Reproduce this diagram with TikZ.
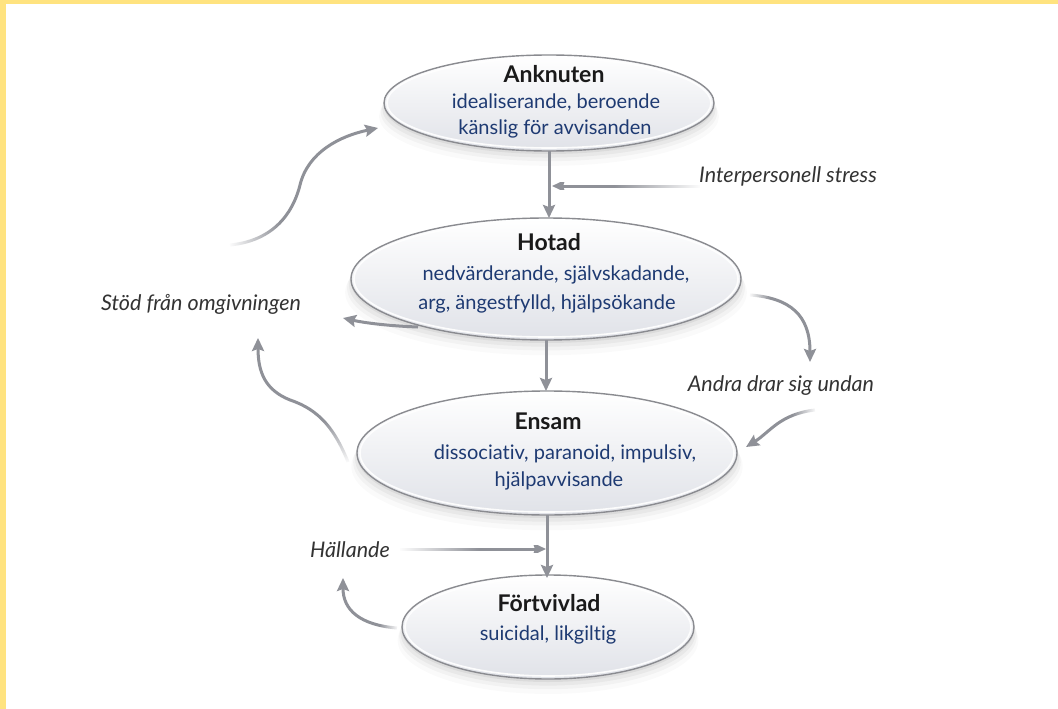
\documentclass[tikz,border=0pt]{standalone}
\usepackage{fontspec}
\setmainfont{Lato}[Ligatures=NoCommon]
\usetikzlibrary{shapes.geometric,arrows.meta,shadows,fadings}
\definecolor{frameyel}{HTML}{FFE37F}
\definecolor{arrowgray}{HTML}{8F9198}
\definecolor{rimgray}{HTML}{8A8B90}
\definecolor{fillbot}{HTML}{E0E2E8}
\definecolor{txtblue}{HTML}{1E3A72}
\definecolor{txtdark}{HTML}{1A1A1A}
\definecolor{lblgray}{HTML}{333333}
% custom tail fadings (25bp..75bp maps onto the path's bounding box)
\pgfdeclarehorizontalshading{shTailW}{100bp}{color(0bp)=(pgftransparent!100); color(25bp)=(pgftransparent!100); color(42bp)=(pgftransparent!0); color(100bp)=(pgftransparent!0)}
\pgfdeclarefading{tailW}{\pgfuseshading{shTailW}}
\pgfdeclarehorizontalshading{shTailWlong}{100bp}{color(0bp)=(pgftransparent!100); color(25bp)=(pgftransparent!100); color(52bp)=(pgftransparent!0); color(100bp)=(pgftransparent!0)}
\pgfdeclarefading{tailWlong}{\pgfuseshading{shTailWlong}}
\pgfdeclarehorizontalshading{shTailE}{100bp}{color(0bp)=(pgftransparent!0); color(58bp)=(pgftransparent!0); color(75bp)=(pgftransparent!100); color(100bp)=(pgftransparent!100)}
\pgfdeclarefading{tailE}{\pgfuseshading{shTailE}}
\pgfdeclarehorizontalshading{shTailElong}{100bp}{color(0bp)=(pgftransparent!0); color(46bp)=(pgftransparent!0); color(75bp)=(pgftransparent!100); color(100bp)=(pgftransparent!100)}
\pgfdeclarefading{tailElong}{\pgfuseshading{shTailElong}}
\pgfdeclareverticalshading{shTailS}{100bp}{color(0bp)=(pgftransparent!100); color(25bp)=(pgftransparent!100); color(42bp)=(pgftransparent!0); color(100bp)=(pgftransparent!0)}
\pgfdeclarefading{tailS}{\pgfuseshading{shTailS}}
\begin{document}
\begin{tikzpicture}[x=1pt,y=-1pt,
  state/.style={ellipse, draw=rimgray, line width=1.4pt, top color=white, bottom color=fillbot,
    inner sep=0pt, outer sep=0pt,
    drop shadow={shadow xshift=0pt, shadow yshift=-3pt, opacity=0.05, fill=black},
    drop shadow={shadow xshift=0pt, shadow yshift=-6pt, shadow scale=1.01, opacity=0.04, fill=black},
    drop shadow={shadow xshift=0pt, shadow yshift=-9pt, shadow scale=1.02, opacity=0.03, fill=black},
    drop shadow={shadow xshift=0pt, shadow yshift=-13pt, shadow scale=1.03, opacity=0.02, fill=black}},
  rim/.style={draw=white, line width=1.6pt, opacity=0.9},
  ttl/.style={font=\fontsize{23}{27}\selectfont\bfseries, text=txtdark, anchor=base, inner sep=0pt},
  desc/.style={font=\fontsize{20}{26}\selectfont, text=txtblue, anchor=base, inner sep=0pt},
  lab/.style={font=\fontsize{21.5}{25}\selectfont\itshape, text=lblgray, anchor=base, inner sep=0pt},
  arr/.style={draw=arrowgray, line width=3pt, -{Stealth[length=13pt,width=12pt,inset=2pt]}}
]
% background and frame
\fill[frameyel] (0,0) rectangle (1058,709);
\fill[white] (6,4) rectangle (1058,709);
\useasboundingbox (0,0) rectangle (1058,709);

% states
\node[state, minimum width=330pt, minimum height=96pt] (ank) at (549,103) {};
\node[state, minimum width=390pt, minimum height=122pt] (hot) at (546,279) {};
\node[state, minimum width=380pt, minimum height=124pt] (ens) at (547,453) {};
\node[state, minimum width=292pt, minimum height=104pt] (fort) at (548,627) {};
\draw[rim] (ank.center) ellipse [x radius=162pt, y radius=45pt];
\draw[rim] (hot.center) ellipse [x radius=192pt, y radius=58pt];
\draw[rim] (ens.center) ellipse [x radius=187pt, y radius=59pt];
\draw[rim] (fort.center) ellipse [x radius=143pt, y radius=49pt];

% texts in states
\node[ttl] (ankT) at (554,82) {Anknuten};
\node[desc] (ankA) at (556,108) {idealiserande, beroende};
\node[desc] (ankB) at (555,134) {känslig för avvisanden};

\node[ttl] (hotT) at (549,250) {Hotad};
\node[desc] (hotA) at (556,280) {nedvärderande, självskadande,};
\node[desc] (hotB) at (547,309) {arg, ängestfylld, hjälpsökande};

\node[ttl] (ensT) at (548,429) {Ensam};
\node[desc] (ensA) at (565,459) {dissociativ, paranoid, impulsiv,};
\node[desc] (ensB) at (559,486) {hjälpavvisande};

\node[ttl] (fortT) at (549,611) {Förtvivlad};
\node[desc] (fortA) at (548,640) {suicidal, likgiltig};

% labels
\node[lab] (ips) at (788,182) {Interpersonell stress};
\node[lab] (stod) at (201,310) {Stöd från omgivningen};
\node[lab] (andra) at (781,391) {Andra drar sig undan};
\node[lab] (hall) at (350,557) {Hällande};

% main vertical arrows
\draw[arr] (ank.south) -- (ank.south |- hot.north);
\draw[arr] (hot.south) -- (hot.south |- ens.north);
\draw[arr] (ens.south) -- ([yshift=-3pt]ens.south |- fort.north);

% free ends
\coordinate (ipsS) at (700,186);
\coordinate (ipsE) at (552,186);
\coordinate (hallS) at (400,549);
\coordinate (hallE) at (546,549);
\coordinate (stodS) at (230,245);
\coordinate (stodE) at (378,128);
\coordinate (ensL) at (348,462);
\coordinate (ensUp) at (258,338);
\coordinate (hotL) at (418,327);
\coordinate (hotLE) at (343,318);
\coordinate (hotR) at (750,295);
\coordinate (andraT) at (810,362);
\coordinate (andraS) at (815,410);
\coordinate (ensR) at (746,447);
\coordinate (fortL) at (397,628);
\coordinate (fortUp) at (343,578);

% side arrows
\draw[arr, path fading=tailElong] (ipsS) -- (ipsE);
\draw[arr, path fading=tailWlong] (hallS) -- (hallE);
\draw[arr, path fading=tailW] (stodS) .. controls (280,240) and (295,205) .. (300,185)
  .. controls (308,152) and (340,136) .. (stodE);
\draw[arr, path fading=tailS] (ensL) .. controls (335,430) and (320,410) .. (290,400)
  .. controls (265,390) and (258,372) .. (ensUp);
\draw[arr] (hotL) .. controls (390,326) and (365,323) .. (hotLE);
\draw[arr, path fading=tailW] (hotR) .. controls (790,298) and (810,315) .. (andraT);
\draw[arr, path fading=tailE] (andraS) .. controls (780,414) and (770,432) .. (ensR);
\draw[arr, path fading=tailE] (fortL) .. controls (360,625) and (343,610) .. (fortUp);
\end{tikzpicture}
\end{document}
